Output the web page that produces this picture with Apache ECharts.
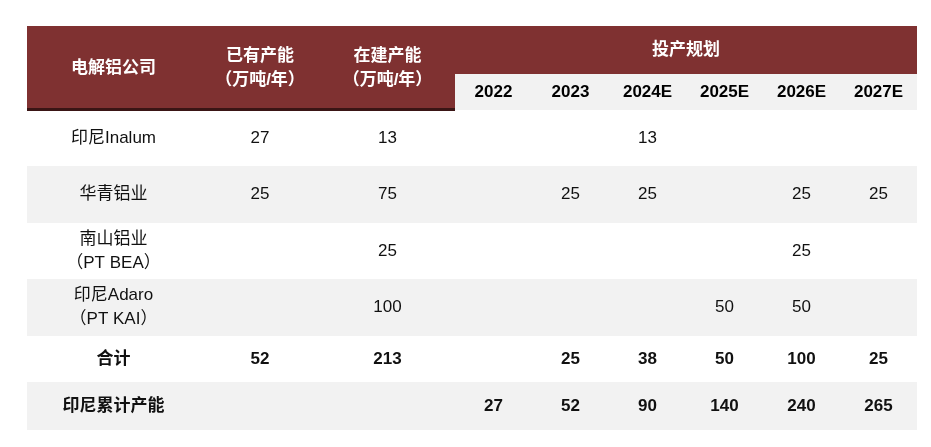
<!DOCTYPE html>
<html><head><meta charset="utf-8">
<script src="https://cdn.jsdelivr.net/npm/echarts@6/dist/echarts.min.js"></script>
<style>html,body{margin:0;padding:0;background:#fff}#c{width:931px;height:447px}</style>
</head><body><div id="c"></div>
<script>
// ---- data ----
const headLeft = ['电解铝公司', '已有产能\n（万吨/年）', '在建产能\n（万吨/年）'];
const planTitle = '投产规划';
const years = ['2022', '2023', '2024E', '2025E', '2026E', '2027E'];
const companies = ['印尼Inalum', '华青铝业', '南山铝业\n（PT BEA）', '印尼Adaro\n（PT KAI）', '合计', '印尼累计产能'];
const existing = ['27', '25', '', '', '52', ''];
const building = ['13', '75', '25', '100', '213', ''];
const plan = [
  ['', '', '13', '', '', ''],
  ['', '25', '25', '', '25', '25'],
  ['', '', '', '', '25', ''],
  ['', '', '', '50', '50', ''],
  ['', '25', '38', '50', '100', '25'],
  ['27', '52', '90', '140', '240', '265']
];
const boldRows = [4, 5];

// ---- layout ----
const xEdges = [27, 200, 320, 455];
for (let i = 1; i <= 6; i++) xEdges.push(455 + i * (917 - 455) / 6);
const yHead = [26, 74, 110];
const yRows = [110, 166, 223, 279, 336, 382, 430];
const RED = '#7f3131', GRAY = '#f2f2f2';

const cells = []; // [x0,x1,y0,y1,text,fill,color,bold,size]
for (let c = 0; c < 3; c++) cells.push([xEdges[c], xEdges[c+1], yHead[0], yHead[2], headLeft[c], RED, '#fff', 1, 17]);
cells.push([xEdges[3], xEdges[9], yHead[0], yHead[1], planTitle, RED, '#fff', 1, 17]);
years.forEach((y, i) => cells.push([xEdges[3+i], xEdges[4+i], yHead[1], yHead[2], y, GRAY, '#000', 1, 17]));
companies.forEach((name, r) => {
  const fill = r % 2 === 1 ? GRAY : '#fff';
  const b = boldRows.includes(r) ? 1 : 0;
  const row = [name, existing[r], building[r]].concat(plan[r]);
  row.forEach((t, c) => cells.push([xEdges[c], xEdges[c+1], yRows[r], yRows[r+1], t, fill, '#111', b, 17]));
});
cells.push([xEdges[0], xEdges[3], 108, 111, '', '#3a1515', '#000', 0, 12]);

const chart = echarts.init(document.getElementById('c'));
chart.setOption({
  animation: false,
  grid: {left: 0, right: 0, top: 0, bottom: 0},
  xAxis: {type: 'value', min: 0, max: 931, show: false},
  yAxis: {type: 'value', min: 0, max: 447, inverse: true, show: false},
  series: [{
    type: 'custom',
    coordinateSystem: 'cartesian2d',
    data: cells,
    renderItem: function (params, api) {
      const d = cells[params.dataIndex];
      const p0 = api.coord([d[0], d[2]]), p1 = api.coord([d[1], d[3]]);
      return {
        type: 'group',
        children: [
          {type: 'rect', shape: {x: p0[0], y: p0[1], width: p1[0]-p0[0], height: p1[1]-p0[1]}, style: {fill: d[5]}},
          {type: 'text', style: {
            x: (p0[0]+p1[0])/2, y: (p0[1]+p1[1])/2, text: d[4], align: 'center', verticalAlign: 'middle',
            fill: d[6], fontSize: d[8], fontWeight: d[7] ? 'bold' : 'normal', lineHeight: 24,
            fontFamily: 'Liberation Sans, Noto Sans CJK SC, sans-serif'}}
        ]
      };
    }
  }]
});
</script></body></html>
